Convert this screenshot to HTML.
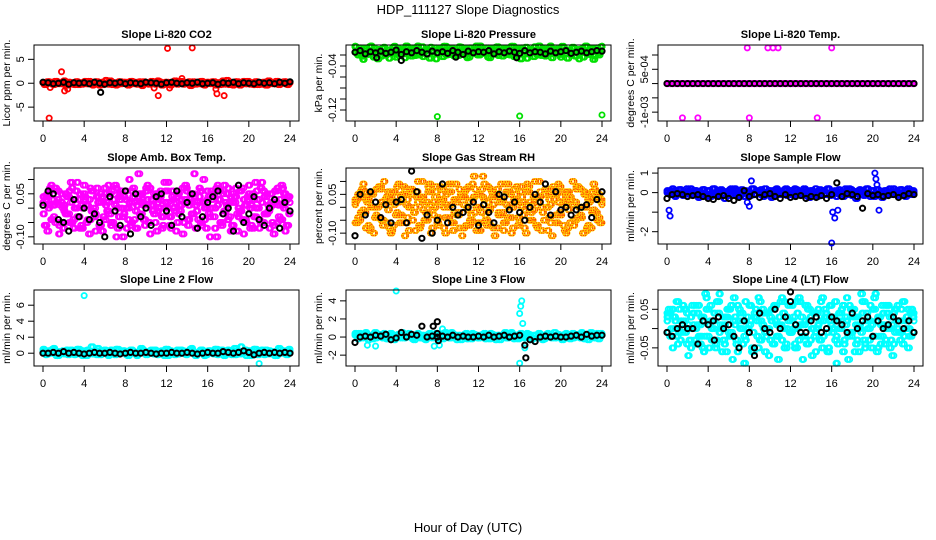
<!DOCTYPE html>
<html><head><meta charset="utf-8">
<style>
html,body{margin:0;padding:0;background:#fff;}
svg{display:block;font-family:"Liberation Sans",sans-serif;}
</style></head>
<body>
<svg id="chart" width="936" height="540" viewBox="0 0 936 540" xmlns="http://www.w3.org/2000/svg">
<text x="468" y="14" font-size="13" text-anchor="middle">HDP_111127  Slope Diagnostics</text>
<text x="468" y="532" font-size="13" text-anchor="middle">Hour of Day (UTC)</text>
</svg>
<script>
// ---------- data ----------
const xTicks = [0,4,8,12,16,20,24];

const co2Red = [0.1,-0.2,0.3,0.2,-0.3,0.4,0.1,-0.1,0.5,-0.4,0.2,0.0,-0.3,0.3,0.1,-0.2,0.4,-0.1,0.2,-0.4,0.3,0.0,0.1,-0.3,0.6,-0.2,0.2,0.1,-0.4,0.3,-0.1,0.2,0.0,-0.3,0.4,0.1,-0.2,0.3,-0.5,0.2,0.1,-0.1,0.3,-0.2,0.5,0.0,-0.3,0.2,0.1,-0.4,0.3,-0.1,0.2,0.4,-0.2,0.0,0.3,-0.3,0.1,0.2,-0.1,0.4,-0.4,0.2,0.0,0.3,-0.2,0.1,-0.3,0.5,0.0,-0.1,0.2,-0.4,0.3,0.1,-0.2,0.4,-0.1,0.2,0.0,-0.3,0.3,0.1,-0.2,0.2,-0.4,0.3,0.0,-0.1,0.4,-0.2,0.1,0.3,-0.3,0.1];
const co2Black = [0.2,0.1,-0.1,0.0,0.2,-0.2,0.1,0.0,0.1,-0.1,0.2,0.0,-0.2,0.1,0.0,0.2,-0.1,0.1,0.0,-0.1,0.2,0.1,0.0,-0.2,0.1,0.2,0.0,-0.1,0.1,0.0,0.2,-0.1,0.0,0.1,-0.2,0.1,0.0,0.2,-0.1,0.1,0.0,-0.1,0.2,0.0,0.1,-0.1,0.2,0.0,0.3];
const co2RedOut = [[0.6,-7.3],[1.8,2.4],[2.1,-1.6],[2.4,-1.2],[0.7,-0.9],[10.8,-1.0],[11.2,-2.6],[12.1,7.3],[12.3,-1.0],[13.5,1.0],[14.5,7.4],[16.9,-2.2],[16.8,-1.2],[17.6,-2.6]];
const co2BlackOut = [[5.6,-1.9]];

const presGreen = [-0.005,-0.02,-0.012,-0.028,-0.008,-0.018,-0.003,-0.024,-0.015,-0.01,-0.022,-0.006,-0.016,-0.026,-0.012,-0.004,-0.019,-0.009,-0.014,-0.025,-0.007,-0.017,-0.011,-0.021,-0.002,-0.015,-0.023,-0.01,-0.018,-0.006,-0.013,-0.027,-0.009,-0.016,-0.004,-0.02,-0.012,-0.008,-0.022,-0.014,-0.005,-0.018,-0.011,-0.025,-0.007,-0.015,-0.01,-0.02,-0.003,-0.017,-0.013,-0.024,-0.008,-0.016,-0.006,-0.021,-0.012,-0.009,-0.019,-0.014,-0.004,-0.023,-0.011,-0.017,-0.007,-0.015,-0.026,-0.01,-0.013,-0.005,-0.02,-0.016,-0.008,-0.022,-0.012,-0.003,-0.018,-0.01,-0.014,-0.024,-0.006,-0.017,-0.011,-0.02,-0.008,-0.015,-0.027,-0.009,-0.013,-0.005,-0.019,-0.012,-0.022,-0.007,-0.016,-0.004];
const presBlack = [-0.015,-0.012,-0.018,-0.014,-0.016,-0.013,-0.017,-0.015,-0.011,-0.019,-0.014,-0.016,-0.012,-0.015,-0.018,-0.013,-0.016,-0.014,-0.017,-0.012,-0.015,-0.019,-0.013,-0.016,-0.014,-0.015,-0.012,-0.018,-0.014,-0.016,-0.013,-0.015,-0.017,-0.012,-0.016,-0.014,-0.015,-0.018,-0.013,-0.016,-0.014,-0.012,-0.017,-0.015,-0.013,-0.016,-0.014,-0.012,-0.013];
const presGreenOut = [[8.0,-0.132],[16.0,-0.131],[24.0,-0.129]];
const presBlackOut = [[4.5,-0.03],[2.1,-0.025],[15.7,-0.025],[9.8,-0.024]];

const tempMag = new Array(96).fill(0);
const tempBlack = new Array(49).fill(0);
const tempMagOut = [[7.8,0.00125],[9.8,0.00125],[10.3,0.00125],[10.8,0.00125],[16.0,0.00125],[1.5,-0.0012],[3.0,-0.0012],[8.0,-0.0012],[14.6,-0.0012]];

const ambA = [-0.02,0.03,0.05,-0.04,0.01,0.06,-0.06,0.02,-0.01,0.04,-0.05,0.07,0.0,-0.03,0.05,-0.07,0.03,0.01,-0.04,0.06,-0.02,0.04,-0.06,0.02,0.05,-0.01,-0.05,0.03,0.07,-0.03,0.0,0.04,-0.07,0.02,0.06,-0.04,0.01,-0.02,0.05,-0.06,0.03,0.07,-0.01,-0.05,0.02,0.04,-0.03,0.06,0.0,-0.07,0.03,0.05,-0.02,0.01,-0.05,0.06,-0.04,0.02,0.04,-0.01,0.07,-0.06,0.0,0.03,-0.03,0.05,-0.07,0.01,0.06,-0.02,0.02,-0.04,0.04,-0.06,0.07,0.0,-0.01,0.03,-0.05,0.05,0.01,-0.03,0.06,-0.07,0.02,0.04,-0.02,0.0,-0.05,0.03,0.07,-0.04,0.01,0.05,-0.06,0.02];
const ambB = [0.04,-0.06,0.0,0.08,-0.03,0.02,-0.09,0.05,0.01,-0.02,0.06,-0.05,0.03,0.09,-0.07,0.0,0.04,-0.04,0.07,-0.01,-0.08,0.02,0.05,-0.03,0.01,0.08,-0.06,0.03,-0.1,0.04,0.06,-0.02,0.0,0.1,-0.05,0.02,-0.07,0.05,0.03,-0.04,0.08,-0.09,0.01,0.04,-0.01,0.06,-0.06,0.02,0.09,-0.03,0.0,-0.08,0.05,0.03,-0.05,0.07,0.01,-0.02,0.12,-0.07,0.04,0.02,-0.04,0.06,-0.1,0.03,0.0,0.08,-0.05,0.05,-0.01,0.07,-0.08,0.02,0.04,-0.03,0.06,-0.09,0.01,0.08,-0.06,0.03,0.0,-0.04,0.09,-0.02,0.05,-0.07,0.01,0.06,-0.05,0.03,0.07,-0.08,0.04,0.02];
const ambBlack = [0.01,0.06,0.05,-0.04,-0.05,-0.08,0.03,-0.03,0.0,-0.04,-0.02,-0.05,-0.1,0.04,-0.01,-0.06,0.06,-0.09,0.05,-0.03,0.0,-0.06,0.04,0.05,-0.01,-0.06,0.06,-0.03,0.02,0.05,-0.07,-0.03,0.02,0.04,0.06,-0.02,0.0,-0.08,0.08,-0.05,-0.02,0.04,-0.04,-0.06,0.0,0.03,-0.07,0.02,-0.01];

const rhA = [0.02,-0.04,0.06,-0.01,0.03,-0.07,0.05,0.0,-0.03,0.08,-0.05,0.01,0.04,-0.08,0.02,0.06,-0.02,-0.06,0.03,0.07,-0.04,0.0,0.05,-0.09,0.02,0.04,-0.01,-0.05,0.08,0.01,-0.03,0.06,-0.07,0.03,0.0,0.05,-0.04,0.09,-0.02,0.02,-0.08,0.04,0.06,-0.01,-0.05,0.03,0.07,-0.06,0.0,0.04,-0.03,0.08,-0.07,0.01,0.05,-0.02,0.03,-0.09,0.06,0.0,-0.04,0.07,0.02,-0.06,0.04,-0.01,0.09,-0.05,0.01,0.03,-0.08,0.06,-0.02,0.05,0.0,-0.06,0.08,-0.03,0.02,0.04,-0.07,0.06,-0.01,0.03,-0.05,0.07,0.0,-0.04,0.05,-0.08,0.02,0.06,-0.02,0.04,-0.06,0.03];
const rhB = [-0.06,0.05,-0.02,0.09,-0.08,0.03,0.0,-0.1,0.07,-0.04,0.02,0.1,-0.06,0.04,-0.09,0.01,0.08,-0.03,0.05,-0.11,0.03,0.07,-0.05,0.0,0.1,-0.07,0.04,-0.02,0.06,-0.1,0.02,0.08,-0.04,0.05,-0.08,0.01,0.09,-0.06,0.03,-0.03,0.07,-0.11,0.04,0.0,-0.07,0.09,-0.02,0.05,-0.09,0.12,-0.05,0.02,0.07,-0.08,0.04,-0.03,0.09,-0.06,0.01,0.06,-0.1,0.03,0.08,-0.04,0.0,-0.08,0.06,0.02,-0.05,0.1,-0.07,0.04,-0.02,0.07,-0.09,0.01,0.05,-0.06,0.09,-0.03,0.02,-0.1,0.06,0.03,-0.07,0.08,-0.04,0.0,0.06,-0.09,0.04,-0.02,0.07,-0.05,0.03,0.01];
const rhBlack = [-0.11,0.05,-0.03,0.06,0.02,-0.04,0.01,-0.06,0.02,0.03,-0.06,0.14,0.06,-0.12,-0.03,-0.1,-0.05,0.09,-0.06,0.0,-0.03,-0.02,0.0,0.02,-0.07,0.01,-0.02,-0.06,0.05,0.04,-0.01,0.02,-0.02,-0.05,0.0,0.05,0.02,0.09,-0.03,0.06,-0.01,0.0,-0.03,-0.01,0.0,0.01,-0.04,0.03,0.06];

const flowBlue = [0.1,-0.1,0.2,-0.2,0.0,0.15,-0.15,0.05,-0.05,0.2,-0.1,0.1,-0.25,0.0,0.15,-0.2,0.1,-0.05,0.2,-0.15,0.05,0.1,-0.3,0.0,0.15,-0.1,0.2,-0.2,0.05,-0.05,0.1,0.0,-0.15,0.2,-0.1,0.05,0.15,-0.2,0.0,0.1,-0.25,0.05,0.2,-0.1,0.0,0.15,-0.15,0.1,-0.05,0.2,-0.1,0.05,0.0,0.15,-0.2,0.1,-0.05,0.2,-0.15,0.0,0.1,-0.1,0.2,-0.05,0.05,-0.2,0.15,0.0,-0.1,0.1,0.2,-0.15,0.05,-0.05,0.15,-0.1,0.0,0.2,-0.2,0.1,-0.05,0.15,0.0,-0.15,0.1,0.05,-0.1,0.2,-0.05,0.0,0.15,-0.1,0.1,-0.05,0.05,0.0];
const flowBlack = [-0.3,-0.1,-0.05,-0.1,-0.2,-0.15,-0.1,-0.2,-0.3,-0.35,-0.2,-0.15,-0.3,-0.4,-0.25,0.1,-0.2,-0.1,-0.25,-0.1,-0.05,-0.2,-0.3,-0.1,-0.25,-0.2,-0.15,-0.3,-0.2,-0.25,-0.15,-0.3,-0.1,0.5,-0.2,-0.05,-0.1,-0.2,-0.8,-0.05,-0.15,-0.1,-0.2,-0.15,-0.1,-0.25,-0.15,-0.05,-0.1];
const flowBlueOut = [[0.2,-0.9],[0.3,-1.2],[16.1,-1.0],[16.3,-1.3],[16.6,-0.9],[16.0,-2.7],[20.2,1.0],[20.3,0.7],[20.4,0.4],[20.6,-0.9],[7.8,-0.5],[8.0,-0.7],[8.2,0.6]];

const l2Cyan = [0.5,-0.2,0.3,0.0,0.6,-0.3,0.2,0.1,-0.1,0.4,0.0,0.3,-0.2,0.5,0.1,-0.3,0.2,0.4,0.0,-0.1,0.3,0.6,-0.2,0.1,0.2,-0.3,0.4,0.0,0.5,-0.1,0.2,0.3,-0.2,0.1,0.4,0.0,-0.3,0.2,0.5,0.1,-0.1,0.3,0.0,0.4,-0.2,0.2,0.1,0.5,-0.3,0.3,0.0,0.2,-0.1,0.4,0.1,-0.2,0.3,0.6,0.0,-0.1,0.2,0.4,-0.3,0.1,0.3,0.0,0.5,-0.2,0.2,0.1,-0.1,0.4,0.0,0.3,-0.2,0.2,0.8,0.1,-0.3,0.3,0.0,0.5,-0.1,0.2,0.4,-0.2,0.1,0.3,0.0,-0.3,0.2,0.5,0.1,-0.1,0.3,0.2];
const l2Black = [0.0,0.0,0.1,0.0,0.2,0.0,0.1,0.0,-0.1,0.0,0.1,0.0,0.0,0.1,0.0,-0.1,0.0,0.1,0.0,0.0,0.1,0.0,-0.1,0.0,0.0,0.1,0.0,0.0,0.1,0.0,-0.1,0.0,0.1,0.0,0.0,0.2,0.1,0.0,0.1,0.3,0.1,-0.2,0.0,0.1,0.0,0.1,0.0,0.1,0.0];
const l2CyanOut = [[4.0,7.2],[21.0,-1.3]];

const l3Cyan = [0.4,-0.2,0.2,0.0,0.5,-0.3,0.1,0.3,-0.1,0.2,0.0,0.4,-0.2,0.1,0.3,-0.3,0.2,0.0,0.5,-0.1,0.1,0.3,-0.2,0.0,0.4,-0.1,0.2,-0.3,0.3,0.0,0.1,0.4,-0.2,0.2,0.0,0.3,-0.1,0.5,0.1,-0.3,0.2,0.0,0.3,-0.2,0.1,0.4,0.0,-0.1,0.2,0.3,-0.2,0.0,0.4,0.1,-0.3,0.2,0.0,0.3,-0.1,0.1,0.5,-0.2,0.2,0.0,0.3,-0.1,0.4,0.1,-0.2,0.2,0.0,0.3,-0.3,0.1,0.4,0.0,0.2,-0.1,0.3,0.1,-0.2,0.4,0.0,0.2,-0.1,0.3,0.1,0.5,-0.2,0.2,0.0,0.3,-0.1,0.4,0.1,0.2];
const l3Black = [-0.6,0.0,0.1,0.0,0.2,0.1,0.3,-0.3,-0.1,0.5,0.0,0.3,0.2,1.2,0.0,0.1,0.0,0.1,0.0,0.2,0.0,0.1,0.0,0.0,0.1,0.0,0.2,0.0,0.1,0.2,0.0,0.1,0.2,-0.9,-0.3,-0.5,0.0,0.1,0.0,0.1,0.0,0.0,0.1,0.2,0.0,0.3,0.1,0.2,0.2];
const l3CyanOut = [[4.0,5.1],[16.2,4.0],[16.1,3.4],[16.0,2.6],[16.3,1.5],[16.0,-2.9],[16.5,-1.2],[2.0,-1.0],[1.2,-0.9],[8.2,-0.9],[7.7,-1.0],[8.5,0.9]];
const l3BlackOut = [[8.0,1.7],[8.0,0.4],[8.1,-0.4],[16.6,-2.3],[7.6,1.2]];

const l4A = [0.03,-0.02,0.05,0.0,-0.04,0.02,0.06,-0.01,0.01,-0.05,0.04,0.0,-0.02,0.03,-0.06,0.05,0.01,-0.03,0.02,0.07,-0.01,0.0,-0.04,0.03,0.05,-0.02,0.01,-0.06,0.04,0.02,-0.03,0.0,0.06,-0.01,0.03,-0.05,0.02,0.04,-0.02,0.0,0.05,-0.04,0.01,0.03,-0.03,0.07,0.0,-0.01,0.02,-0.05,0.04,0.01,-0.02,0.06,-0.04,0.03,0.0,-0.01,0.05,-0.03,0.02,0.04,-0.06,0.01,0.03,-0.02,0.0,0.05,-0.04,0.02,0.06,-0.01,0.03,-0.03,0.01,0.04,-0.05,0.0,0.02,0.05,-0.02,0.03,-0.04,0.01,0.06,0.0,-0.03,0.04,0.02,-0.01,0.05,-0.02,0.03,0.0,0.04,0.02];
const l4B = [-0.01,0.04,-0.05,0.02,0.07,-0.03,0.0,0.05,-0.07,0.03,0.01,-0.04,0.06,-0.02,0.02,0.08,-0.05,0.0,0.04,-0.03,0.09,-0.06,0.01,0.05,-0.02,-0.08,0.03,0.06,0.0,-0.04,0.07,-0.01,0.02,-0.06,0.05,0.08,-0.03,0.0,0.04,-0.07,0.02,0.06,-0.02,0.01,0.08,-0.05,0.03,-0.01,0.06,-0.04,0.0,0.07,-0.08,0.02,0.05,-0.03,0.04,-0.06,0.01,0.07,-0.02,0.03,-0.05,0.06,0.0,-0.09,0.04,0.02,-0.03,0.08,-0.01,0.05,-0.06,0.03,0.0,0.07,-0.04,0.02,0.06,-0.02,0.09,-0.05,0.01,0.04,-0.03,0.06,0.0,-0.04,0.05,0.02,-0.01,0.07,0.03,-0.02,0.05,0.04];
const l4Black = [-0.01,-0.02,0.0,0.01,0.0,0.0,-0.04,0.02,0.01,0.02,0.03,0.0,0.01,-0.02,-0.05,0.02,-0.01,-0.07,0.04,0.0,-0.01,0.05,0.0,0.03,0.07,0.01,-0.01,-0.01,0.02,0.03,-0.01,0.0,0.03,0.02,0.01,-0.01,0.04,0.0,0.02,0.03,-0.02,0.02,0.0,0.01,0.03,0.02,0.0,0.02,-0.01];
const l4BlackOut = [[12.0,0.095],[8.5,-0.05],[4.6,-0.03]];

// ---------- drawing ----------
const NS = 'http://www.w3.org/2000/svg';
const svg = document.getElementById('chart');
function mk(tag, attrs, parent){ const e=document.createElementNS(NS,tag); for(const k in attrs) e.setAttribute(k,attrs[k]); (parent||svg).appendChild(e); return e; }
const colLeft=[34,346,658], rowTop=[45,168,290], PW=265, PH=76;

function xPos(left,h){ return left+9+h*(247/24); }
function yPos(top,min,max,v){ return top+PH-(v-min)/(max-min)*PH; }

// colored series get extra shifted passes for density, like the dense reference cloud
function dense(vals,color,dash){
  return [{vals:vals,color:color,dash:dash},
          {vals:vals,color:color,dash:dash,rev:true,off:0.06},
          {vals:vals,color:color,dash:dash,off:0.13},
          {vals:vals,color:color,dash:dash,rev:true,off:-0.13}];
}

function panel(ci,ri,name,title,ylab,ymin,ymax,ytickVals,ytickLabels,series){
  const left=colLeft[ci], top=rowTop[ri];
  const g=mk('g',{});
  
  
  const t=mk('text',{x:left+PW/2,y:top-7,'font-size':11,'font-weight':'bold','text-anchor':'middle'},g);
  t.textContent=title;
  
  
  const xa=mk('g',{},g);
  
  
  mk('line',{x1:xPos(left,0),x2:xPos(left,24),y1:top+PH,y2:top+PH,stroke:'#000'},xa);
  xTicks.forEach(h=>{
    const x=xPos(left,h);
    mk('line',{x1:x,x2:x,y1:top+PH,y2:top+PH+6,stroke:'#000'},xa);
    const tl=mk('text',{x:x,y:top+PH+21,'font-size':11,'text-anchor':'middle'},xa);
    tl.textContent=h;
    
    
  });
  const ya=mk('g',{},g);
  
  
  const y1=yPos(top,ymin,ymax,ytickVals[0]), y2=yPos(top,ymin,ymax,ytickVals[ytickVals.length-1]);
  mk('line',{x1:left,x2:left,y1:y1,y2:y2,stroke:'#000'},ya);
  ytickVals.forEach((v,i)=>{
    const y=yPos(top,ymin,ymax,v);
    mk('line',{x1:left-6,x2:left,y1:y,y2:y,stroke:'#000'},ya);
    if(ytickLabels[i]){
      const tl=mk('text',{x:left-10,y:y,'font-size':11,'text-anchor':'middle',transform:'rotate(-90 '+(left-10)+' '+y+')'},ya);
      tl.textContent=ytickLabels[i];
      
      
    }
  });
  const yl=mk('text',{x:left-24,y:top+PH/2,'font-size':10.5,'text-anchor':'middle',transform:'rotate(-90 '+(left-24)+' '+(top+PH/2)+')'},g);
  yl.textContent=ylab;
  
  
  const pg=mk('g',{},g);
  
  
  series.forEach(s=>{
    const pts=[];
    if(s.vals){ const n=s.vals.length; s.vals.forEach((v,i)=>{
      const val = s.rev ? s.vals[n-1-i] : v;
      let h = s.black ? i*0.5 : i*24/(n-1) + (s.off||0);
      h=Math.max(0,Math.min(24,h));
      pts.push([h,val]); }); }
    if(s.pairs){ s.pairs.forEach(p=>pts.push(p)); }
    pts.forEach(p=>{
      const cx=xPos(left,p[0]), cy=Math.max(top+1,Math.min(top+PH-1,yPos(top,ymin,ymax,p[1])));
      const c=mk('circle',{cx:cx,cy:cy,r:2.6,fill:'none',stroke:s.color,'stroke-width':s.black?2:1.8},pg);
      
      
      if(s.dash){ const d=mk('circle',{cx:cx,cy:cy,r:2.6,fill:'none',stroke:s.dash,'stroke-width':1.2,'stroke-dasharray':'1.2 1.2'},pg);
        
         }
    });
  });
  const box=mk('rect',{x:left,y:top,width:PW,height:PH,fill:'none',stroke:'#000','stroke-width':1},g);
  
  
}

panel(0,0,'co2','Slope Li-820 CO2','Licor ppm per min.',-7.9,8,[-5,0,5],['-5','0','5'],
  [...dense(co2Red,'#ff0000'),{pairs:co2RedOut,color:'#ff0000'},{vals:co2Black,color:'#000',black:true},{pairs:co2BlackOut,color:'#000',black:true}]);
panel(1,0,'pressure','Slope Li-820 Pressure','kPa per min.',-0.14,-0.0018,[-0.12,-0.1,-0.08,-0.06,-0.04,-0.02],['-0.12','','','','-0.04',''],
  [...dense(presGreen,'#00e000'),{pairs:presGreenOut,color:'#00e000'},{vals:presBlack,color:'#000',black:true},{pairs:presBlackOut,color:'#000',black:true}]);
panel(2,0,'temp','Slope Li-820 Temp.','degrees C per min.',-0.00131,0.00135,[-0.001,-0.0005,0,0.0005,0.001],['-1e-03','','','5e-04',''],
  [...dense(tempMag,'#ff00ff'),{pairs:tempMagOut,color:'#ff00ff'},{vals:tempBlack,color:'#000',black:true}]);
panel(0,1,'amb-box-temp','Slope Amb. Box Temp.','degrees C per min.',-0.125,0.14,[-0.1,-0.05,0,0.05,0.1],['-0.10','','','0.05',''],
  [...dense(ambA,'#ff00ff'),...dense(ambB,'#ff00ff'),{vals:ambBlack,color:'#000',black:true}]);
panel(1,1,'gas-stream-rh','Slope Gas Stream RH','percent per min.',-0.142,0.152,[-0.1,-0.05,0,0.05,0.1],['-0.10','','','0.05',''],
  [...dense(rhA,'#ffd800','#ff3000'),...dense(rhB,'#ffd800','#ff3000'),{vals:rhBlack,color:'#000',black:true}]);
panel(2,1,'sample-flow','Slope Sample Flow','ml/min per min.',-2.63,1.26,[-2,-1,0,1],['-2','','0','1'],
  [...dense(flowBlue,'#0000ff'),{pairs:flowBlueOut,color:'#0000ff'},{vals:flowBlack,color:'#000',black:true}]);
panel(0,2,'line2-flow','Slope Line 2 Flow','ml/min per min.',-1.6,7.9,[0,2,4,6],['0','2','4','6'],
  [...dense(l2Cyan,'#00ffff'),{pairs:l2CyanOut,color:'#00ffff'},{vals:l2Black,color:'#000',black:true}]);
panel(1,2,'line3-flow','Slope Line 3 Flow','ml/min per min.',-3.2,5.2,[-2,0,2,4],['-2','0','2','4'],
  [...dense(l3Cyan,'#00ffff'),{pairs:l3CyanOut,color:'#00ffff'},{vals:l3Black,color:'#000',black:true},{pairs:l3BlackOut,color:'#000',black:true}]);
panel(2,2,'line4-flow','Slope Line 4 (LT) Flow','ml/min per min.',-0.097,0.10,[-0.05,0,0.05],['-0.05','','0.05'],
  [...dense(l4A,'#00ffff'),...dense(l4B,'#00ffff'),{vals:l4Black,color:'#000',black:true},{pairs:l4BlackOut,color:'#000',black:true}]);
</script>
</body></html>
